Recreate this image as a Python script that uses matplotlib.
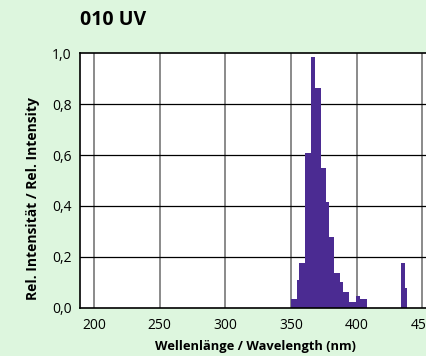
import matplotlib
matplotlib.use("Agg")
import matplotlib.pyplot as plt

# Spectrum data: bin edges (nm) and relative intensities
edges_main = [350.0, 354.5, 356.3, 360.5, 365.5, 368.2, 373.0, 376.8, 379.0,
              382.5, 387.0, 389.5, 393.8, 399.5, 402.5, 407.5]
heights_main = [0.034, 0.11, 0.175, 0.607, 0.985, 0.864, 0.548, 0.415,
                0.28, 0.138, 0.103, 0.064, 0.025, 0.047, 0.034]
edges_peak = [434.0, 437.0, 438.6]
heights_peak = [0.175, 0.077]

xticks = [200, 250, 300, 350, 400, 450]
yticks = [0.0, 0.2, 0.4, 0.6, 0.8, 1.0]
ytick_labels = ["0,0", "0,2", "0,4", "0,6", "0,8", "1,0"]

bg = "#ddf6de"
bar_color = "#4b2b92"

plt.rcParams['font.family'] = ['Open Sans', 'DejaVu Sans']

fig = plt.figure(figsize=(4.26, 3.56), dpi=100, facecolor=bg)
ax = fig.add_axes([0.188, 0.135, 0.822, 0.716])
ax.set_facecolor("white")

ax.stairs(heights_main, edges_main, fill=True, color=bar_color, zorder=2)
ax.stairs(heights_peak, edges_peak, fill=True, color=bar_color, zorder=2)

ax.set_xlim(189.3, 456)
ax.set_ylim(0, 1.0)
ax.set_xticks(xticks)
ax.set_xticklabels([str(t) for t in xticks])
ax.set_yticks(yticks)
ax.set_yticklabels(ytick_labels)
ax.tick_params(length=0, labelsize=10)
ax.tick_params(axis='x', pad=7)
ax.tick_params(axis='y', pad=6)

for x in xticks:
    ax.axvline(x, color="#8a8a8a", lw=1.4, zorder=1)
for y in yticks[1:-1]:
    ax.axhline(y, color="black", lw=0.9, zorder=1)

for s in ax.spines.values():
    s.set_color("black")
    s.set_linewidth(1.2)
ax.spines['right'].set_visible(False)

ax.set_xlabel("Wellenlänge / Wavelength (nm)", fontsize=9.3, fontweight="bold", labelpad=5)
fig.text(33 / 426, 1 - 199 / 356, "Rel. Intensität / Rel. Intensity", fontsize=10,
         fontweight="bold", rotation=90, ha="center", va="center")
fig.text(0.188, 0.944, "010 UV", fontsize=14, fontweight="bold", ha="left", va="center")

fig.savefig("out.png", dpi=100, facecolor=bg)
